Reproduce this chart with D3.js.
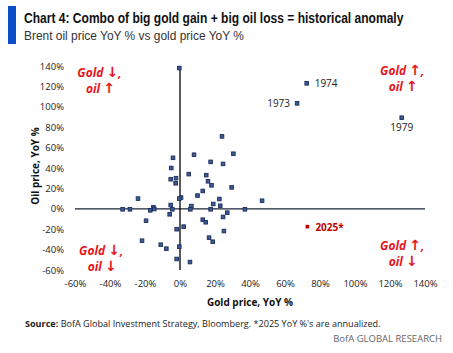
<!DOCTYPE html>
<html><head><meta charset="utf-8">
<script src="https://cdn.jsdelivr.net/npm/d3@7"></script>
<style>body{margin:0;background:#fff}svg{display:block}</style>
</head><body>
<svg id="c" width="453" height="353"></svg>
<script>
// Data: [gold YoY %, oil YoY %]
const goldYoY = [24,8,30.5,-4,17.5,24.6,-5,5,15,-5.3,-2.3,-2.5,16,18,29.5,13,10,-24,0.6,-0.4,22.5,-5.3,19,6.5,23,-15.2,
  -32.8,-28.6,-17,-14.7,-4.4,5.9,17.5,37.1,27,24.6,-5.9,-19.4,13,14.7,2.1,-1.9,25.1,-21.7,-11,-7.8,16.6,18.7,-0.4,-1.9,5.7,
  46.9,-0.4,66.9,72.4,126.7];
const oilYoY = [71,53,54,50,46,44,40,34,33,29,30,25,27,23,21,17.5,13,10,11,10,9.6,3.7,4.7,2.7,3,1.5,
  -0.5,-0.5,-1.5,-0.2,-0.5,-0.5,-0.5,-0.5,-3.8,-8,-5.4,-11.7,-10.7,-13.2,-17.5,-20,-21.8,-31.3,-35.2,-39.1,-28.3,-32.3,-37.1,-49.2,-52.2,
  7.9,138,103.4,123,89.3];
const pointLabels = {53:"1973", 54:"1974", 55:"1979"};
const highlight = {year:"2025*", gold:72.8, oil:-17.5};
const xTicks = [-60,-40,-20,0,20,40,60,80,100,120,140];
const yTicks = [-60,-40,-20,0,20,40,60,80,100,120,140];
const quadrantNotes = [
  {gold:"Gold", ga:"↓", oil:"oil", oa:"↑", gx:-46, oy:134},
  {gold:"Gold", ga:"↑", oil:"oil", oa:"↑", gx:127, oy:136},
  {gold:"Gold", ga:"↓", oil:"oil", oa:"↓", gx:-45, oy:-40},
  {gold:"Gold", ga:"↑", oil:"oil", oa:"↓", gx:127, oy:-35}
];

const svg = d3.select("#c");
const F = "'Open Sans', 'DejaVu Sans', sans-serif";
const x = d3.scaleLinear().domain([-60,140]).range([75,425]);
const y = d3.scaleLinear().domain([-60,140]).range([270,66]);

// fit text to a width by horizontal scaling
function fitText(g, tx, ty, width) {
  const t = g.select("text");
  const len = t.node().getComputedTextLength();
  g.attr("transform", `translate(${tx},${ty}) scale(${width/len},1)`);
}

// header
svg.append("rect").attr("x",8).attr("y",6).attr("width",8).attr("height",38).attr("fill","#0a4fc8");
const tg = svg.append("g");
tg.append("text").attr("font-family","'Liberation Sans', Arial, sans-serif")
  .attr("font-weight","bold").attr("font-size",14).attr("fill","#111")
  .text("Chart 4: Combo of big gold gain + big oil loss = historical anomaly");
fitText(tg, 24, 23, 380);
const sg = svg.append("g");
sg.append("text").attr("font-family","'Liberation Sans', Arial, sans-serif")
  .attr("font-size",13.5).attr("fill","#333")
  .text("Brent oil price YoY % vs gold price YoY %");
fitText(sg, 24, 40, 220);

// axes tick labels
const fmt = d => d + "%";
const xa = svg.append("g").attr("transform","translate(0,280)")
  .call(d3.axisBottom(x).tickValues(xTicks).tickFormat(fmt).tickSize(0).tickPadding(0));
xa.select(".domain").remove();
xa.selectAll("text").attr("font-family",F).attr("font-size",9.5).attr("fill","#222").attr("dy","0.71em");
const ya = svg.append("g").attr("transform","translate(64,0)")
  .call(d3.axisLeft(y).tickValues(yTicks).tickFormat(fmt).tickSize(0).tickPadding(0));
ya.select(".domain").remove();
ya.selectAll("text").attr("font-family",F).attr("font-size",9.5).attr("fill","#222");

// cross lines
svg.append("line").attr("x1",x(-60)).attr("x2",x(140)).attr("y1",y(0)).attr("y2",y(0))
  .attr("stroke","#1b2338").attr("stroke-width",1.3);
svg.append("line").attr("x1",x(0)).attr("x2",x(0)).attr("y1",y(140)).attr("y2",y(-60))
  .attr("stroke","#000").attr("stroke-width",1.3);

// axis titles
svg.append("text").attr("x",250).attr("y",306).attr("text-anchor","middle").attr("font-family",F)
  .attr("font-weight","bold").attr("font-size",10).attr("fill","#111").text("Gold price, YoY %");
svg.append("text").attr("transform","translate(39,166) rotate(-90)").attr("text-anchor","middle").attr("font-family",F)
  .attr("font-weight","bold").attr("font-size",10).attr("fill","#111").text("Oil price, YoY %");

// points
const pts = goldYoY.map((g,i)=>({g, o:oilYoY[i], label:pointLabels[i]}));
svg.append("g").selectAll("rect").data(pts).join("rect")
  .attr("x",d=>x(d.g)-1.8).attr("y",d=>y(d.o)-1.8).attr("width",3.6).attr("height",3.6)
  .attr("fill","#3d5a92").attr("stroke","#1c2d5c").attr("stroke-width",0.9);

// point labels
const lab = svg.append("g").attr("font-family",F).attr("font-size",10).attr("fill","#222");
pts.filter(d=>d.label).forEach(d=>{
  let t = lab.append("text").attr("dominant-baseline","central").text(d.label);
  if (d.label==="1974") t.attr("x",x(d.g)+8).attr("y",y(d.o));
  else if (d.label==="1973") t.attr("x",x(d.g)-7).attr("y",y(d.o)).attr("text-anchor","end");
  else t.attr("x",x(d.g)).attr("y",y(d.o)+9).attr("text-anchor","middle");
});

// highlight 2025
svg.append("rect").attr("x",x(highlight.gold)-1.8).attr("y",y(highlight.oil)-1.8).attr("width",3.6).attr("height",3.6)
  .attr("fill","#c00000");
svg.append("text").attr("x",x(highlight.gold)+8).attr("y",y(highlight.oil)).attr("dominant-baseline","central")
  .attr("font-family",F).attr("font-weight","bold").attr("font-size",10).attr("fill","#c00000").text(highlight.year);

// quadrant notes
const qn = svg.append("g").attr("font-family","'Open Sans','DejaVu Sans',sans-serif").attr("font-weight","bold")
  .attr("font-style","italic").attr("font-size",12).attr("fill","#e8141c").attr("text-anchor","middle");
const AF = "'DejaVu Sans', sans-serif";
quadrantNotes.forEach(q=>{
  const t1 = qn.append("text").attr("x",x(q.gx)).attr("y",y(q.oy)).attr("dominant-baseline","central");
  t1.append("tspan").text(q.gold + " ");
  t1.append("tspan").attr("font-family",AF).attr("font-style","normal").attr("font-size",14).text(q.ga);
  t1.append("tspan").text(",");
  const t2 = qn.append("text").attr("x",x(q.gx)+1).attr("y",y(q.oy)+16).attr("dominant-baseline","central");
  t2.append("tspan").text(q.oil + " ");
  t2.append("tspan").attr("font-family",AF).attr("font-style","normal").attr("font-size",14).text(q.oa);
});

// footer
const fg = svg.append("g");
const src = fg.append("text").attr("font-family",F).attr("font-size",9.5).attr("fill","#222");
src.append("tspan").attr("font-weight","bold").text("Source:");
src.append("tspan").text(" BofA Global Investment Strategy, Bloomberg. *2025 YoY %'s are annualized.");
fitText(fg, 25, 327, 356);
svg.append("text").attr("x",442).attr("y",342).attr("text-anchor","end").attr("font-family",F)
  .attr("font-size",9.5).attr("fill","#666").text("BofA GLOBAL RESEARCH");
</script>
</body></html>
